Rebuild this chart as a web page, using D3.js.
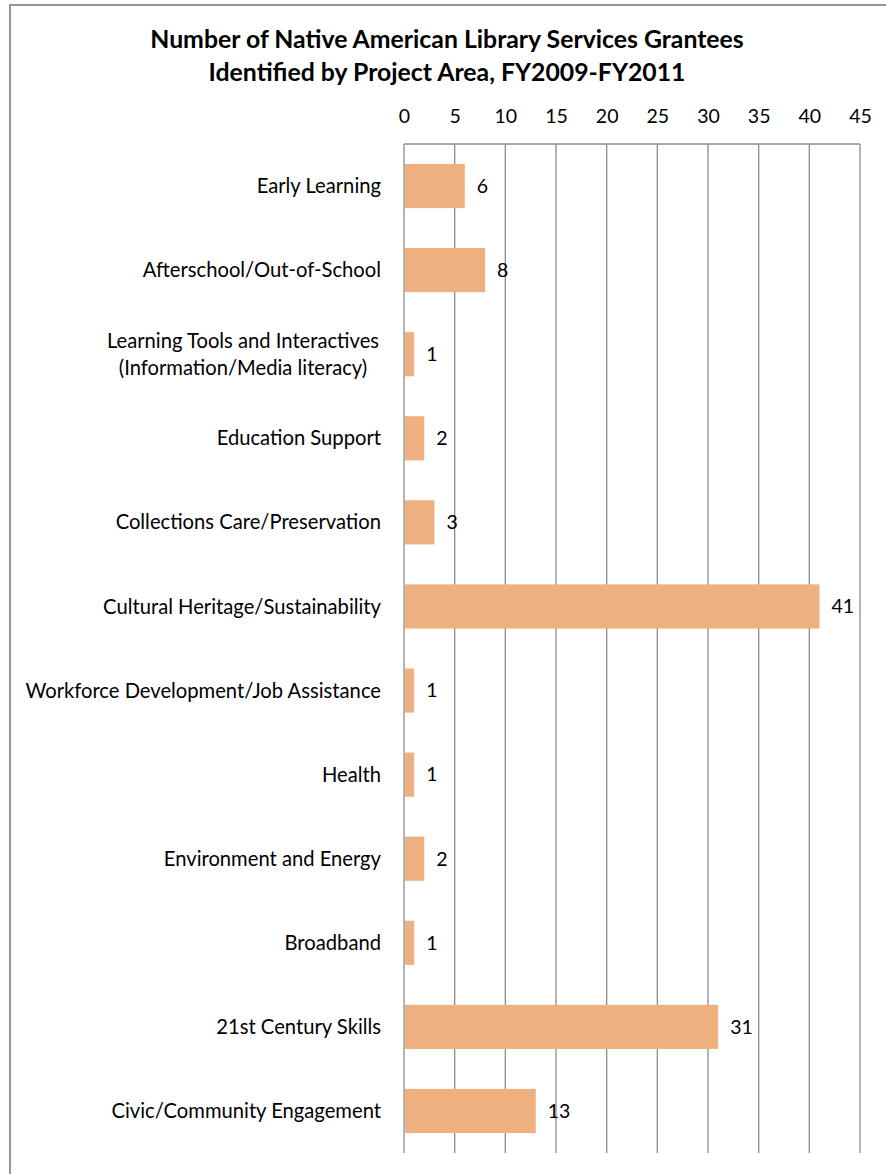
<!DOCTYPE html>
<html lang="en">
<head>
<meta charset="UTF-8">
<title>Native American Library Services Grantees</title>
<script src="https://d3js.org/d3.v7.min.js"></script>
<style>
    body { margin: 0; background: #fff; }
    svg text { font-family: Lato, "Open Sans", sans-serif; fill: #000; }
    .title { font-weight: bold; }
</style>
</head>
<body>
<svg id="chart" width="886" height="1174"></svg>
<script>
    // data
    let categories = [
        "Early Learning",
        "Afterschool/Out-of-School",
        "Learning Tools and Interactives|(Information/Media literacy)",
        "Education Support",
        "Collections Care/Preservation",
        "Cultural Heritage/Sustainability",
        "Workforce Development/Job Assistance",
        "Health",
        "Environment and Energy",
        "Broadband",
        "21st Century Skills",
        "Civic/Community Engagement"
    ];
    let grantees = [6, 8, 1, 2, 3, 41, 1, 1, 2, 1, 31, 13];
    let xTicks = [0, 5, 10, 15, 20, 25, 30, 35, 40, 45];
    let titleLines = [
        "Number of Native American Library Services Grantees",
        "Identified by Project Area, FY2009-FY2011"
    ];

    let svg = d3.select('#chart');
    let plotLeft = 404, plotRight = 860, plotTop = 144, plotBottom = 1153;
    let fontSize = 19.5;     // ticks and value labels
    let labelSize = 20.2;    // category labels

    // outer frame
    svg.append('rect')
        .attr('x', 10).attr('y', 5)
        .attr('width', 900).attr('height', 1200)
        .attr('fill', 'none')
        .attr('stroke', '#969696').attr('stroke-width', 2);

    let x = d3.scaleLinear().domain([0, 45]).range([plotLeft, plotRight]);
    let y = d3.scaleBand().domain(categories).range([plotTop, plotBottom]).paddingInner(0.475).paddingOuter(0.2375);

    // title
    svg.append('g').selectAll('text')
        .data(titleLines)
        .enter()
        .append('text')
        .attr('class', 'title')
        .attr('x', 447)
        .attr('y', (d, i) => 48 + i * 33)
        .attr('text-anchor', 'middle')
        .style('font-size', '24.8px')
        .text(d => d);

    // vertical gridlines + top border line
    let grid = svg.append('g');
    grid.selectAll('line')
        .data(xTicks)
        .enter()
        .append('line')
        .attr('x1', d => x(d)).attr('x2', d => x(d))
        .attr('y1', plotTop).attr('y2', plotBottom)
        .attr('stroke', '#8c8c8c').attr('stroke-width', 1.3);
    grid.append('line')
        .attr('x1', plotLeft).attr('x2', plotRight)
        .attr('y1', plotTop).attr('y2', plotTop)
        .attr('stroke', '#8c8c8c').attr('stroke-width', 1.3);

    // top axis tick labels
    let axis = svg.append('g')
        .attr('transform', `translate(0,${plotTop - 21})`)
        .call(d3.axisTop(x).tickValues(xTicks).tickSize(0).tickPadding(0));
    axis.select('.domain').remove();
    axis.selectAll('text')
        .style('font-size', fontSize + 'px')
        .style('font-family', 'Lato, sans-serif')
        .attr('fill', '#000');

    // bars
    svg.append('g').selectAll('rect')
        .data(grantees)
        .enter()
        .append('rect')
        .attr('x', x(0) + 1)
        .attr('y', (d, i) => y(categories[i]))
        .attr('width', d => x(d) - x(0) - 1)
        .attr('height', y.bandwidth())
        .attr('fill', '#efb07f');

    // value labels
    svg.append('g').selectAll('text')
        .data(grantees)
        .enter()
        .append('text')
        .attr('x', d => x(d) + 12)
        .attr('y', (d, i) => y(categories[i]) + y.bandwidth() / 2)
        .attr('dy', '0.35em')
        .style('font-size', fontSize + 'px')
        .text(d => d);

    // category labels
    let labels = svg.append('g').selectAll('text')
        .data(categories)
        .enter()
        .append('text')
        .attr('y', d => y(d) + y.bandwidth() / 2)
        .style('font-size', labelSize + 'px');
    labels.each(function (d) {
        let lines = d.split('|');
        let t = d3.select(this);
        if (lines.length === 1) {
            t.attr('x', 381).attr('text-anchor', 'end').attr('dy', '0.35em').text(d);
        } else {
            t.attr('text-anchor', 'middle');
            lines.forEach(function (ln, i) {
                t.append('tspan')
                    .attr('x', 243)
                    .attr('dy', i === 0 ? -6.5 : 27)
                    .text(ln);
            });
        }
    });
</script>
</body>
</html>
